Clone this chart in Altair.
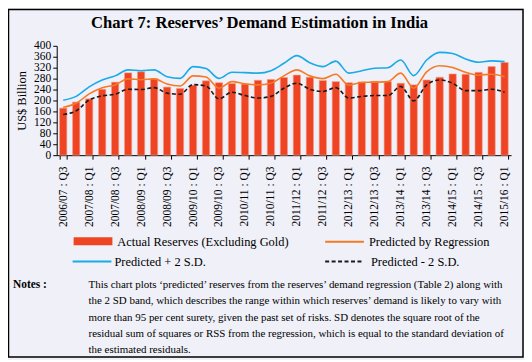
import altair as alt
import pandas as pd

FONT = "Liberation Serif"

# ---- categories (quarters) ----
quarters = []
for fy in range(2006, 2016):
    fy_label = f"{fy}/{str(fy + 1)[2:]}"
    for q in ["Q1", "Q2", "Q3", "Q4"]:
        quarters.append(f"{fy_label} : {q}")
quarters = quarters[2:37]          # 2006/07 : Q3 ... 2015/16 : Q1
labelled = quarters[::2]

# ---- series values (US$ billion) ----
actual = [172, 194, 206, 241, 267, 301, 305, 280, 249, 244, 256, 272, 265, 262, 260,
          274, 277, 284, 293, 285, 273, 269, 265, 268, 270, 269, 263, 257, 275, 285,
          297, 296, 303, 324, 339]
predicted = [175, 190, 224, 247, 257, 279, 276, 279, 260, 253, 290, 286, 245, 269, 261,
             257, 263, 290, 312, 290, 280, 296, 256, 266, 267, 269, 300, 245, 305, 327,
             321, 303, 293, 296, 287]
upper = [201, 215, 250, 275, 290, 312, 309, 312, 287, 281, 324, 317, 281, 303, 302,
         300, 309, 336, 364, 338, 324, 344, 300, 309, 318, 320, 348, 291, 348, 376,
         372, 352, 340, 345, 342]
lower = [149, 162, 202, 217, 223, 241, 240, 247, 227, 223, 258, 253, 206, 230, 218,
         209, 215, 245, 263, 241, 233, 247, 209, 215, 218, 218, 251, 199, 257, 275,
         263, 236, 236, 241, 230]
y_ticks = list(range(0, 401, 40))

df = pd.DataFrame({"quarter": quarters, "actual": actual, "predicted": predicted,
                   "upper": upper, "lower": lower})

BAR = "#EF4423"
ORANGE = "#F47B25"
BLUE = "#19AAE8"

x_enc = alt.X("quarter:N", sort=quarters,
              scale=alt.Scale(paddingInner=0.44, paddingOuter=0.22),
              axis=alt.Axis(values=labelled, title=None, labelAngle=270,
                            labelFont=FONT, labelFontSize=11.5, labelPadding=7,
                            labelOverlap=False, tickBand="extent"))

y_axis = alt.Axis(values=y_ticks, title="US$ Billion", titleFont=FONT, titleFontSize=12.5,
                  titleX=-35, titleY=55, titleAngle=270, titleAlign="center",
                  titleBaseline="middle", labelFont=FONT, labelFontSize=11.5,
                  labelPadding=2, labelOverlap=False, grid=False)
y_scale = alt.Scale(domain=[0, 400], nice=False)

base = alt.Chart(df)
bars = base.mark_bar(color=BAR, stroke="#F3A08A", strokeWidth=0.6).encode(
    x=x_enc, y=alt.Y("actual:Q", scale=y_scale, axis=y_axis))


def series_line(field, color, dash=None):
    kw = dict(color=color, strokeWidth=1.6, interpolate="monotone")
    if dash:
        kw["strokeDash"] = dash
    return base.mark_line(**kw).encode(
        x=x_enc, y=alt.Y(f"{field}:Q", scale=y_scale, axis=y_axis))


line_up = series_line("upper", BLUE)
line_pred = series_line("predicted", ORANGE)
line_low = series_line("lower", "#1a1a1a", [4, 2.5])

one = alt.Data(values=[{"a": 1}])


def txt(s, x, y, size=12, weight="normal", align="left", baseline="middle"):
    return alt.Chart(one).mark_text(text=s, font=FONT, fontSize=size, fontWeight=weight,
                                    align=align, baseline=baseline, color="black").encode(
        x=alt.value(x), y=alt.value(y))


border = alt.Chart(one).mark_rect(fillOpacity=0, stroke="black", strokeWidth=1.5).encode(
    x=alt.value(-48.5), x2=alt.value(469), y=alt.value(-36.5), y2=alt.value(313))

title = txt("Chart 7: Reserves\u2019 Demand Estimation in India", 204, -18, size=16.7,
            weight="bold", align="center", baseline="alphabetic")

leg_rect = alt.Chart(one).mark_rect(color=BAR).encode(
    x=alt.value(17), x2=alt.value(56), y=alt.value(192.5), y2=alt.value(200.5))
leg_orange = alt.Chart(one).mark_rule(color=ORANGE, strokeWidth=2).encode(
    x=alt.value(270), x2=alt.value(309), y=alt.value(197))
leg_blue = alt.Chart(one).mark_rule(color=BLUE, strokeWidth=2).encode(
    x=alt.value(16), x2=alt.value(55), y=alt.value(217))
leg_black = alt.Chart(one).mark_rule(color="#1a1a1a", strokeWidth=2, strokeDash=[4, 2.5]).encode(
    x=alt.value(270), x2=alt.value(308), y=alt.value(217))

legend_texts = [
    txt("Actual Reserves (Excluding Gold)", 61, 197, size=12.5),
    txt("Predicted by Regression", 314, 197, size=12.5),
    txt("Predicted + 2 S.D.", 58, 217, size=12.5),
    txt("Predicted - 2 S.D.", 316, 217, size=12.5),
]

notes_lines = [
    "This chart plots \u2018predicted\u2019 reserves from the reserves\u2019 demand regression (Table 2) along with",
    "the 2 SD band, which describes the range within which reserves\u2019 demand is likely to vary with",
    "more than 95 per cent surety, given the past set of risks. SD denotes the square root of the",
    "residual sum of squares or RSS from the regression, which is equal to the standard deviation of",
    "the estimated residuals.",
]
note_texts = [txt("Notes :", -44, 241, size=11.5, weight="bold")]
for i, line in enumerate(notes_lines):
    note_texts.append(txt(line, 32, 241 + 16.2 * i, size=11))

chart = alt.layer(
    border, bars, line_up, line_pred, line_low, title,
    leg_rect, leg_orange, leg_blue, leg_black, *legend_texts, *note_texts
).properties(
    width=457, height=110, background="#EFF0F8",
    padding={"left": 49, "top": 37, "right": 13, "bottom": 205},
    autosize=alt.AutoSizeParams(type="none"),
).configure_view(stroke=None).configure_axis(
    labelFont=FONT, titleFont=FONT, labelColor="black", titleColor="black",
    titleFontWeight="normal", tickColor="black", domainColor="black", tickSize=4,
    domainWidth=1, tickWidth=1
)

chart.save("out.html", embed_options={"renderer": "svg", "actions": False})
